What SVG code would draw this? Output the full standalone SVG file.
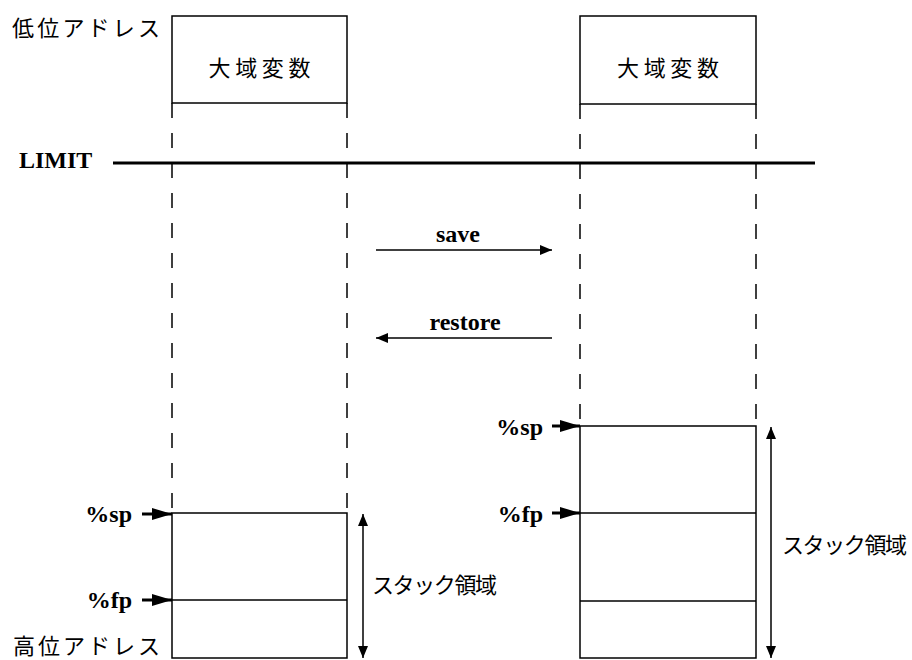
<svg xmlns="http://www.w3.org/2000/svg" width="912" height="660" viewBox="0 0 912 660">
<defs>
<marker id="ah" viewBox="0 0 12 10" refX="12" refY="5" markerWidth="12" markerHeight="10" markerUnits="userSpaceOnUse" orient="auto-start-reverse">
<path d="M0,0 L12,5 L0,10 Z" fill="#000"/>
</marker>
<marker id="ahb" viewBox="0 0 20 12" refX="20" refY="6" markerWidth="20" markerHeight="12" markerUnits="userSpaceOnUse" orient="auto">
<path d="M0,0 L20,6 L0,12 Z" fill="#000"/>
</marker>
<style>
.box{fill:#fff;stroke:#000;stroke-width:1.5}
.sep{stroke:#000;stroke-width:1.5}
.dash{stroke:#000;stroke-width:1.5;stroke-dasharray:15 15;fill:none}
.jp{font-family:"Liberation Serif","Noto Sans CJK JP",serif;font-size:22px;fill:#000}
.bold{font-family:"Liberation Serif",serif;font-weight:bold;font-size:24px;fill:#000}
.conn{stroke:#000;stroke-width:1.5;fill:none}
.ptr{stroke:#000;stroke-width:3;fill:none}
</style>
</defs>
<g id="labels">
<text class="jp" x="12" y="36" textLength="148" lengthAdjust="spacing">低位アドレス</text>
<text class="jp" x="13" y="654" textLength="147" lengthAdjust="spacing">高位アドレス</text>
</g>
<g id="limit">
<text class="bold" x="19" y="168">LIMIT</text>
<line x1="113" y1="163" x2="815" y2="163" stroke="#000" stroke-width="3"/>
</g>
<g id="left-global">
<rect class="box" x="172" y="16" width="175" height="87"/>
<text class="jp" x="259.5" y="76" text-anchor="middle" font-size="24" textLength="102" lengthAdjust="spacing">大域変数</text>
</g>
<g id="right-global">
<rect class="box" x="580" y="16" width="176" height="88"/>
<text class="jp" x="668" y="76" text-anchor="middle" font-size="24" textLength="102" lengthAdjust="spacing">大域変数</text>
</g>
<g id="left-stack">
<rect class="box" x="172" y="513" width="175" height="145"/>
<line class="sep" x1="172" y1="600" x2="347" y2="600"/>
<text class="jp" x="372" y="593" textLength="125" lengthAdjust="spacing">スタック領域</text>
</g>
<g id="right-stack">
<rect class="box" x="580" y="426" width="176" height="232"/>
<line class="sep" x1="580" y1="513" x2="756" y2="513"/>
<line class="sep" x1="580" y1="601" x2="756" y2="601"/>
<text class="jp" x="782" y="553" textLength="125" lengthAdjust="spacing">スタック領域</text>
</g>
<g id="pointers">
<text class="bold" x="132" y="522" text-anchor="end">%sp</text>
<text class="bold" x="132" y="608" text-anchor="end">%fp</text>
<text class="bold" x="543" y="435" text-anchor="end">%sp</text>
<text class="bold" x="543" y="522" text-anchor="end">%fp</text>
</g>
<g id="connectors">
<line class="dash" x1="172" y1="103" x2="172" y2="513"/>
<line class="dash" x1="347" y1="103" x2="347" y2="513"/>
<line class="dash" x1="580" y1="104" x2="580" y2="426"/>
<line class="dash" x1="756" y1="104" x2="756" y2="426"/>
<line class="conn" x1="376" y1="250" x2="552" y2="250" marker-end="url(#ah)"/>
<text class="bold" x="458" y="242" text-anchor="middle">save</text>
<line class="conn" x1="552" y1="338" x2="376" y2="338" marker-end="url(#ah)"/>
<text class="bold" x="465" y="330" text-anchor="middle">restore</text>
<line class="conn" x1="363" y1="514" x2="363" y2="658" marker-start="url(#ah)" marker-end="url(#ah)"/>
<line class="conn" x1="771" y1="427" x2="771" y2="658" marker-start="url(#ah)" marker-end="url(#ah)"/>
<line class="ptr" x1="142" y1="514" x2="172" y2="514" marker-end="url(#ahb)"/>
<line class="ptr" x1="142" y1="600" x2="172" y2="600" marker-end="url(#ahb)"/>
<line class="ptr" x1="552" y1="426" x2="580" y2="426" marker-end="url(#ahb)"/>
<line class="ptr" x1="552" y1="513" x2="580" y2="513" marker-end="url(#ahb)"/>
</g>
</svg>
